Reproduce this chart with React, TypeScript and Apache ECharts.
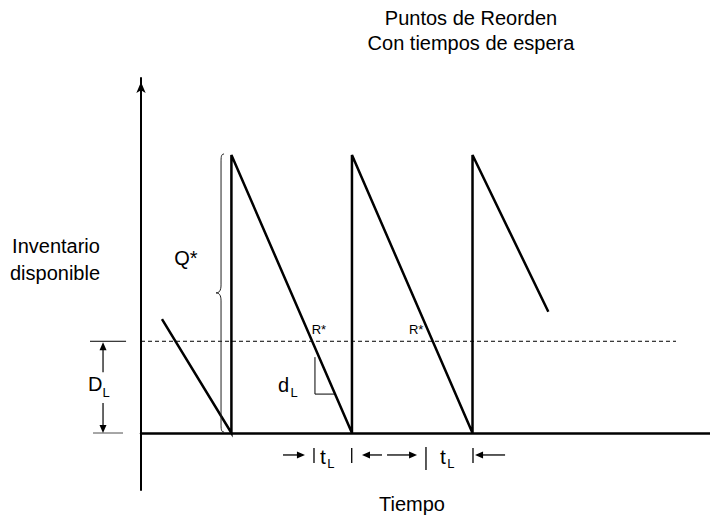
import React, { useEffect, useRef } from "react";
import * as echarts from "echarts";

const FONT = '"Liberation Sans", Arial, Helvetica, sans-serif';

// Inventory on hand over time (sawtooth of orders arriving and being used up)
const stockTimes = [1.74, 7.5, 7.5, 17.5, 17.5, 27.5, 27.5, 33.79];
const stockLevels = [41, 0, 100, 0, 100, 0, 100, 43.6];

// Order quantity and reorder point (inventory units)
const orderQty = 100;
const reorderPoint = 33;
const reorderLineEnd = 44.38;

// "R*" labels where the stock line crosses the reorder point
const reorderLabels = ["R*", "R*"];
const reorderLabelTimes = [14.16, 22.23];

// Lead time brackets under the time axis
const leadStartTicks = [14.35, 23.64];
const leadEndTicks = [17.48, 27.54];
const leadLabelTimes = [14.85, 24.8];

// Axis ranges
const timeRange = [0, 47.2];
const stockRange = [-20.5, 127.7];

const App: React.FC = () => {
  const ref = useRef<HTMLDivElement>(null);

  useEffect(() => {
    if (!ref.current) return;
    const chart = echarts.init(ref.current, null, { renderer: "svg" });

    const stockData = stockTimes.map((t, i) => [t, stockLevels[i]]);

    chart.setOption({
      animation: false,
      backgroundColor: "#ffffff",
      grid: { left: 141, right: 0, top: 78, bottom: 26, containLabel: false },
      xAxis: {
        type: "value",
        min: timeRange[0],
        max: timeRange[1],
        axisLine: { show: true, onZero: true, lineStyle: { color: "#000", width: 2.5 } },
        axisTick: { show: false },
        axisLabel: { show: false },
        splitLine: { show: false },
      },
      yAxis: {
        type: "value",
        min: stockRange[0],
        max: stockRange[1],
        axisLine: {
          show: true,
          onZero: true,
          symbol: ["none", "arrow"],
          symbolSize: [7, 11],
          symbolOffset: [0, -4],
          lineStyle: { color: "#000", width: 2 },
        },
        axisTick: { show: false },
        axisLabel: { show: false },
        splitLine: { show: false },
      },
      series: [
        {
          type: "line",
          data: [
            [0, reorderPoint],
            [reorderLineEnd, reorderPoint],
          ],
          symbol: "none",
          clip: false,
          lineStyle: { color: "#000", width: 1, type: [4, 3] },
          z: 1,
        },
        {
          type: "line",
          data: stockData,
          symbol: "none",
          clip: false,
          lineStyle: { color: "#000", width: 2.5, join: "miter" },
          z: 3,
        },
      ],
    });

    const p = (x: number, y: number) =>
      chart.convertToPixel({ gridIndex: 0 }, [x, y]) as number[];

    const els: any[] = [];
    const line = (a: number[], b: number[], w = 1, color = "#000") =>
      els.push({
        type: "line",
        shape: { x1: a[0], y1: a[1], x2: b[0], y2: b[1] },
        style: { stroke: color, lineWidth: w },
        z: 10,
      });
    const head = (tip: number[], dir: "up" | "down" | "left" | "right", len = 8, half = 3.5) => {
      const [x, y] = tip;
      let pts: number[][];
      if (dir === "up") pts = [[x, y], [x - half, y + len], [x + half, y + len]];
      else if (dir === "down") pts = [[x, y], [x - half, y - len], [x + half, y - len]];
      else if (dir === "left") pts = [[x, y], [x + len, y - half], [x + len, y + half]];
      else pts = [[x, y], [x - len, y - half], [x - len, y + half]];
      els.push({ type: "polygon", shape: { points: pts }, style: { fill: "#000" }, z: 10 });
    };
    const text = (
      s: string,
      x: number,
      y: number,
      size: number,
      align: "left" | "center" | "right" = "left"
    ) =>
      els.push({
        type: "text",
        style: {
          text: s,
          x,
          y,
          font: `${size}px ${FONT}`,
          fill: "#000",
          textAlign: align,
          textVerticalAlign: "middle",
        },
        z: 10,
      });
    const arrowH = (fromX: number, toX: number, y: number) => {
      const a = p(fromX, y);
      const b = p(toX, y);
      const dir = toX > fromX ? "right" : "left";
      const len = 8;
      const shaftEnd = dir === "right" ? b[0] - len + 1 : b[0] + len - 1;
      line(a, [shaftEnd, b[1]], 1.3);
      head(b, dir, len, 3.5);
    };

    // Curly brace spanning the order quantity
    {
      const xb = p(6.64, 0)[0];
      const top = p(0, orderQty)[1] - 1;
      const bot = p(0, 0)[1] - 1;
      const mid = p(0, 50.4)[1];
      const st = { stroke: "#222", lineWidth: 1, fill: null };
      els.push(
        { type: "bezierCurve", shape: { x1: xb + 3, y1: top, cpx1: xb, cpy1: top, cpx2: xb, cpy2: top + 3, x2: xb, y2: top + 9 }, style: st, z: 10 },
        { type: "line", shape: { x1: xb, y1: top + 9, x2: xb, y2: mid - 8 }, style: st, z: 10 },
        { type: "bezierCurve", shape: { x1: xb, y1: mid - 8, cpx1: xb, cpy1: mid - 2, cpx2: xb - 2, cpy2: mid, x2: xb - 5, y2: mid }, style: st, z: 10 },
        { type: "bezierCurve", shape: { x1: xb - 5, y1: mid, cpx1: xb - 2, cpy1: mid, cpx2: xb, cpy2: mid + 2, x2: xb, y2: mid + 8 }, style: st, z: 10 },
        { type: "line", shape: { x1: xb, y1: mid + 8, x2: xb, y2: bot - 9 }, style: st, z: 10 },
        { type: "bezierCurve", shape: { x1: xb, y1: bot - 9, cpx1: xb, cpy1: bot - 3, cpx2: xb, cpy2: bot, x2: xb + 3, y2: bot }, style: st, z: 10 }
      );
      const q = p(3.73, 62.9);
      text("Q*", q[0], q[1], 20, "center");
    }

    // Reorder level dimension (D_L) left of the stock axis
    {
      line(p(-4.23, reorderPoint), p(-1.24, reorderPoint), 1);
      line(p(-3.98, 0), p(-1.49, 0), 1.5, "#888");
      const xa = -3.15;
      const topTip = p(xa, reorderPoint);
      topTip[1] += 1;
      const gapTop = p(xa, 21.9);
      const gapBot = p(xa, 10.8);
      const botTip = p(xa, 0);
      line([topTip[0], topTip[1] + 7], gapTop, 1.2);
      head(topTip, "up", 8, 3.5);
      line(gapBot, [botTip[0], botTip[1] - 7], 1.2);
      head(botTip, "down", 8, 3.5);
      const d = p(-4.4, 17.6);
      text("D", d[0], d[1], 20);
      const l = p(-3.19, 14.4);
      text("L", l[0], l[1], 13);
    }

    // Demand during lead time (d_L) triangle on the first cycle
    {
      const v1 = p(14.43, 27.3);
      const v2 = p(14.43, 14.0);
      const h2 = p(7.5 + (orderQty - 14.0) / 10, 14.0);
      line(v1, v2, 1);
      line(v2, h2, 1);
      const d = p(11.36, 17.3);
      text("d", d[0], d[1], 20);
      const l = p(12.4, 14.4);
      text("L", l[0], l[1], 13);
    }

    // R* labels
    reorderLabels.forEach((s, i) => {
      const q = p(reorderLabelTimes[i], 37.1);
      text(s, q[0], q[1], 13);
    });

    // Lead time brackets
    {
      const yArrow = -7.9;
      arrowH(11.78, 13.6, yArrow);
      arrowH(19.99, 18.33, yArrow);
      arrowH(20.41, 22.9, yArrow);
      arrowH(30.2, 27.71, yArrow);
      leadStartTicks.forEach((t, i) => {
        const lo = i === 1 ? -13.3 : -10.8;
        const hi = i === 1 ? -5.0 : -5.4;
        line(p(t, hi), p(t, lo), 1.3);
      });
      leadEndTicks.forEach((t) => {
        line(p(t, -5.4), p(t, -10.8), 1.3);
      });
      leadLabelTimes.forEach((t) => {
        const a = p(t, -8.3);
        text("t", a[0], a[1], 21);
        const b = p(t + 0.6, -10.8);
        text("L", b[0], b[1], 13);
      });
    }

    // Titles and axis captions
    text("Puntos de Reorden", 471, 17.5, 20, "center");
    text("Con tiempos de espera", 471, 43, 20, "center");
    text("Inventario", 56, 246, 20, "center");
    text("disponible", 55, 273, 20, "center");
    text("Tiempo", 412, 503.5, 20, "center");

    chart.setOption({ graphic: { elements: els } });

    return () => chart.dispose();
  }, []);

  return (
    <div
      ref={ref}
      style={{ position: "fixed", left: 0, top: 0, width: 710, height: 516, background: "#fff" }}
    />
  );
};

export default App;
